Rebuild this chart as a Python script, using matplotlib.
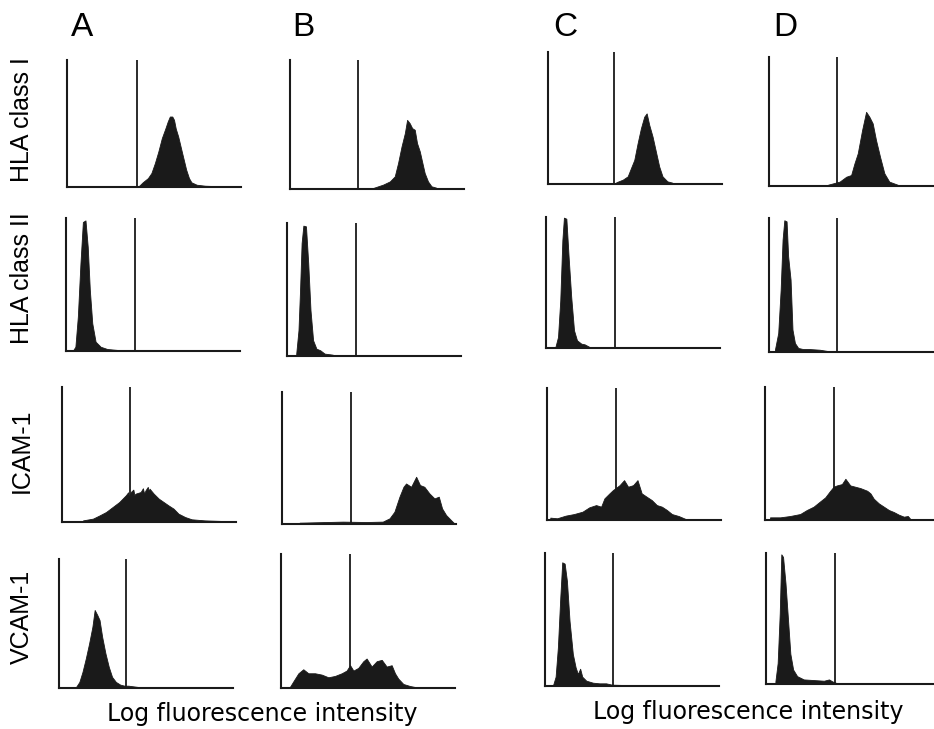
import matplotlib.pyplot as plt

# ---- data: x in % of channel range, y in % of max count ----
rows = ["HLA class I", "HLA class II", "ICAM-1", "VCAM-1"]
cols = ["A", "B", "C", "D"]

# HLA class I
hla1_a_x = [40.5, 41.5, 43.5, 46.5, 48.5, 50.5, 52.5, 54.5, 56.5, 57.9, 59.1, 60.5, 61.5, 62.5, 63.9, 65.5, 67.1, 68.5, 70.1, 71.5, 74.5, 79.4, 89.4]
hla1_a_y = [0.5, 1.0, 3.7, 7.0, 11.0, 18.8, 28.0, 38.5, 46.0, 51.6, 55.5, 55.5, 52.9, 46.0, 39.8, 30.6, 21.5, 13.6, 7.0, 3.7, 1.8, 1.0, 0.5]
hla1_b_x = [47.8, 53.5, 57.4, 60.2, 62.1, 64.1, 66.0, 67.3, 68.8, 70.2, 71.7, 73.0, 74.6, 76.1, 77.4, 79.3, 81.3, 84.1]
hla1_b_y = [0.8, 3.4, 5.9, 9.8, 20.1, 33.0, 43.3, 53.6, 51.0, 47.2, 45.9, 35.6, 29.1, 20.1, 12.4, 5.9, 2.1, 1.0]
hla1_c_x = [39.2, 43.0, 45.8, 47.7, 49.6, 51.5, 53.4, 55.3, 56.7, 58.2, 60.1, 62.0, 63.9, 65.8, 68.6, 71.5]
hla1_c_y = [1.3, 3.3, 5.8, 12.1, 18.3, 30.9, 42.2, 51.0, 53.5, 44.7, 35.9, 24.6, 13.3, 5.8, 2.0, 1.0]
hla1_d_x = [33.9, 40.6, 44.4, 47.2, 49.1, 51.0, 53.5, 55.8, 57.7, 59.6, 61.5, 63.8, 66.3, 69.1, 73.9]
hla1_d_y = [1.0, 3.4, 7.2, 8.5, 17.5, 25.3, 43.3, 57.5, 53.6, 48.5, 35.6, 22.7, 9.8, 3.4, 1.0]

# HLA class II
hla2_a_x = [4.4, 5.4, 6.8, 8.3, 9.7, 11.2, 12.5, 13.7, 15.1, 17.0, 19.9, 23.7, 29.5, 39.2]
hla2_a_y = [1.2, 3.2, 25.8, 65.8, 97.0, 98.2, 78.2, 45.8, 20.8, 7.0, 3.2, 1.5, 0.8, 0.5]
hla2_b_x = [5.3, 6.6, 7.5, 8.4, 9.4, 10.9, 12.2, 13.5, 15.0, 16.9, 19.1, 21.6, 26.3]
hla2_b_y = [1.8, 19.4, 49.6, 84.9, 98.0, 97.5, 69.8, 34.5, 11.8, 5.5, 4.3, 1.8, 1.0]
hla2_c_x = [5.5, 6.9, 8.2, 9.4, 10.3, 11.7, 13.0, 14.5, 16.1, 17.8, 20.3, 22.2, 25.0]
hla2_c_y = [1.3, 8.4, 36.4, 82.2, 99.5, 98.7, 69.5, 38.9, 13.5, 5.9, 3.3, 2.8, 0.8]
hla2_d_x = [3.4, 5.3, 6.7, 7.8, 8.8, 10.1, 11.0, 12.4, 13.5, 14.9, 16.8, 19.6, 23.4, 29.1, 34.9]
hla2_d_y = [1.7, 14.2, 46.5, 83.8, 98.3, 97.5, 71.4, 54.0, 16.7, 6.7, 3.0, 2.2, 2.2, 1.7, 0.5]

# ICAM-1
icam_a_x = [12.1, 17.8, 21.6, 25.3, 29.1, 32.9, 36.7, 38.0, 38.6, 39.5, 41.0, 41.6, 42.3, 45.2, 46.5, 47.2, 48.0, 49.3, 50.0, 50.3, 52.7, 55.6, 58.4, 61.2, 64.1, 66.9, 70.7, 74.5, 82.0, 93.4]
icam_a_y = [1.2, 2.5, 4.9, 7.4, 11.1, 14.8, 19.8, 22.0, 18.0, 22.2, 24.0, 20.0, 21.0, 22.2, 25.0, 21.0, 23.5, 26.0, 22.0, 24.7, 21.0, 17.3, 14.8, 12.3, 9.9, 6.2, 3.7, 2.0, 1.2, 0.7]
icam_b_x = [10.1, 35.0, 48.4, 57.9, 61.8, 64.6, 67.5, 69.8, 71.3, 74.2, 77.1, 79.3, 81.8, 84.7, 87.6, 90.1, 92.0, 94.3, 97.1, 99.0]
icam_b_y = [1.0, 1.8, 1.5, 1.8, 4.3, 9.3, 20.7, 28.2, 30.7, 28.2, 35.8, 29.5, 28.2, 23.2, 19.4, 20.7, 11.8, 6.8, 3.0, 0.5]
icam_c_x = [1.9, 5.8, 10.7, 15.5, 20.4, 24.3, 28.2, 31.1, 33.0, 35.9, 37.9, 39.2, 41.7, 44.3, 46.6, 49.5, 52.0, 54.4, 57.3, 60.2, 63.1, 66.0, 68.9, 71.8, 75.7, 79.6, 83.5]
icam_c_y = [1.8, 1.3, 3.3, 4.5, 6.3, 9.6, 11.3, 10.1, 16.4, 20.2, 22.7, 23.9, 26.4, 30.2, 25.2, 26.4, 30.2, 20.2, 17.6, 15.1, 11.3, 10.1, 7.6, 4.5, 3.0, 0.8, 0.3]
icam_d_x = [2.9, 8.7, 14.4, 20.2, 24.0, 27.9, 31.7, 34.6, 37.5, 39.4, 41.3, 44.2, 46.2, 49.0, 51.9, 54.8, 58.7, 60.6, 62.5, 65.4, 68.3, 71.2, 74.0, 76.9, 79.8, 82.1, 83.7]
icam_d_y = [2.0, 2.0, 3.0, 4.5, 7.5, 10.0, 14.0, 17.0, 22.0, 25.0, 26.0, 27.0, 31.0, 26.0, 25.0, 24.0, 22.0, 20.0, 16.0, 12.5, 10.0, 7.5, 6.0, 4.0, 2.5, 3.0, 0.5]

# VCAM-1
vcam_a_x = [9.8, 11.7, 13.5, 15.4, 17.3, 19.2, 20.5, 22.0, 23.3, 24.8, 26.7, 28.6, 30.5, 32.7, 35.2, 37.6, 39.8, 45.5, 51.1]
vcam_a_y = [0.8, 4.7, 12.5, 22.9, 34.5, 47.5, 60.5, 56.6, 52.7, 39.7, 26.8, 16.4, 8.6, 4.7, 2.6, 1.8, 1.8, 0.8, 0.3]
vcam_b_x = [5.2, 7.1, 10.0, 12.8, 15.7, 19.5, 23.4, 27.2, 31.0, 34.9, 37.7, 39.7, 41.6, 44.4, 47.3, 49.2, 52.1, 55.0, 57.9, 60.7, 63.6, 65.5, 67.4, 70.3, 74.1, 78.0]
vcam_b_y = [1.0, 5.0, 11.0, 14.0, 11.0, 11.0, 10.0, 8.0, 9.0, 11.0, 13.0, 17.0, 13.0, 15.0, 20.0, 22.0, 16.0, 20.0, 21.0, 16.0, 17.0, 11.0, 7.0, 3.0, 1.5, 0.5]
vcam_c_x = [4.6, 6.1, 7.4, 8.8, 9.9, 11.3, 12.6, 14.1, 16.0, 17.6, 18.9, 20.2, 21.4, 23.7, 27.5, 31.3, 35.1, 38.5, 52.3]
vcam_c_y = [0.5, 7.0, 29.0, 67.0, 93.0, 92.0, 79.0, 49.0, 24.0, 14.0, 9.0, 13.0, 7.0, 4.0, 2.5, 2.0, 2.0, 1.0, 0.5]
vcam_d_x = [5.4, 6.7, 7.9, 8.8, 9.8, 11.2, 12.5, 14.0, 15.6, 17.9, 21.7, 27.5, 33.3, 36.2, 38.1, 41.0]
vcam_d_y = [2.0, 16.0, 54.0, 99.0, 97.0, 77.0, 52.0, 23.0, 11.0, 6.0, 3.5, 3.0, 2.5, 3.5, 2.0, 0.5]

# marker (cursor) positions, % of channel range
markers = [
    [40.5, 39.2, 37.8, 39.0],
    [39.4, 39.4, 39.6, 39.0],
    [39.1, 39.8, 39.4, 39.8],
    [38.3, 39.7, 38.9, 39.4],
]

hists = [
    [(hla1_a_x, hla1_a_y), (hla1_b_x, hla1_b_y), (hla1_c_x, hla1_c_y), (hla1_d_x, hla1_d_y)],
    [(hla2_a_x, hla2_a_y), (hla2_b_x, hla2_b_y), (hla2_c_x, hla2_c_y), (hla2_d_x, hla2_d_y)],
    [(icam_a_x, icam_a_y), (icam_b_x, icam_b_y), (icam_c_x, icam_c_y), (icam_d_x, icam_d_y)],
    [(vcam_a_x, vcam_a_y), (vcam_b_x, vcam_b_y), (vcam_c_x, vcam_c_y), (vcam_d_x, vcam_d_y)],
]

# ---- layout in pixels: (left, top, bottom) for each panel ----
W, H = 934, 729
panel_w = 174
boxes = [
    [(67, 60, 187), (290, 60, 189), (548, 52, 184), (769, 57, 186)],
    [(66, 218, 351), (287, 223, 356), (546, 217, 348), (769, 218, 352)],
    [(62, 387, 522), (282, 392, 524), (547, 388, 520), (765, 387, 520)],
    [(59, 559, 688), (281, 554, 688), (545, 553, 686), (766, 553, 684)],
]
row_label_y = [120, 278, 451, 617]
col_label_x = [82, 303, 565, 785]
ink = "#1a1a1a"

fig = plt.figure(figsize=(W / 100, H / 100), dpi=100)

for r in range(4):
    for c in range(4):
        left, top, bottom = boxes[r][c]
        ax = fig.add_axes([left / W, 1 - bottom / H, panel_w / W, (bottom - top) / H])
        x, y = hists[r][c]
        ax.fill_between(x, y, 0, color=ink, linewidth=0.6, edgecolor=ink)
        ax.axvline(markers[r][c], color=ink, linewidth=1.3)
        ax.set_xlim(0, 100)
        ax.set_ylim(0, 100)
        for side in ["top", "right"]:
            ax.spines[side].set_visible(False)
        for side in ["left", "bottom"]:
            ax.spines[side].set_linewidth(1.5)
            ax.spines[side].set_color(ink)
        ax.set_xticks([])
        ax.set_yticks([])
        ax.patch.set_alpha(0)

for r, label in enumerate(rows):
    fig.text(22 / W, 1 - row_label_y[r] / H, label, rotation=90, ha="center", va="center",
             fontsize=18, family="Liberation Sans", color="black")

for c, label in enumerate(cols):
    fig.text(col_label_x[c] / W, 1 - 27 / H, label, ha="center", va="center",
             fontsize=24, family="Liberation Sans", color="black")

fig.text(262 / W, 1 - 714 / H, "Log fluorescence intensity", ha="center", va="center",
         fontsize=17, family="DejaVu Sans", color="black")
fig.text(748 / W, 1 - 712 / H, "Log fluorescence intensity", ha="center", va="center",
         fontsize=17, family="DejaVu Sans", color="black")

fig.savefig("out.png", dpi=100)
